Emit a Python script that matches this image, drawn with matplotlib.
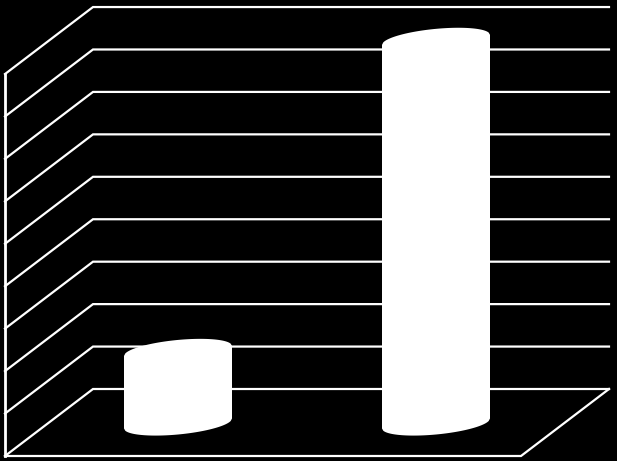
import numpy as np
import matplotlib
matplotlib.use('Agg')
import matplotlib.pyplot as plt

# values
categories = [0, 1]
values = [1.71, 9.04]
levels = list(range(0, 10))

# 3d look: how far the back wall is shifted from the front, in x units and value units
depth_x = 88.0 / 258
depth_y = 67.0 / 42.44
wall_left = -(178 - 93) / 258
wall_right = (609 - 178) / 258
bar_half = 54.0 / 258
cap_h = 11.0 / 42.44
cap_tilt = 5.0 / 42.44

fig = plt.figure(figsize=(6.17, 4.61), dpi=100, facecolor='black')
ax = fig.add_axes([0, 0, 1, 1])
ax.set_facecolor('black')
ax.set_xlim(-178 / 258, (617 - 178) / 258)
ax.set_ylim(-72 / 42.44, 389 / 42.44)
ax.axis('off')

lw = 1.6
for v in levels:
    # grid line: left wall then back wall
    ax.plot([wall_left - depth_x, wall_left, wall_right], [v - depth_y, v, v],
            color='white', lw=lw, solid_joinstyle='miter', zorder=1)

# left wall edge and floor
ax.plot([wall_left - depth_x, wall_left - depth_x], [-depth_y, levels[-1] - depth_y],
        color='white', lw=2.0, zorder=1)
ax.plot([wall_left - depth_x, wall_right - depth_x, wall_right], [-depth_y, -depth_y, 0],
        color='white', lw=lw, solid_joinstyle='miter', zorder=1)

# cylinders stand half way into the floor
t = np.linspace(-1, 1, 80)
for c, v in zip(categories, values):
    base = -depth_y / 2 - 1 / 42.44
    top_edge = base + v + cap_tilt * t + cap_h * np.sqrt(1 - t ** 2)
    bot_edge = base + cap_tilt * t - cap_h * np.sqrt(1 - t ** 2)
    xs = c + t * bar_half
    ax.fill(np.r_[xs, xs[::-1]], np.r_[top_edge, bot_edge[::-1]],
            color='white', lw=0, zorder=3)

fig.savefig('out.png', dpi=100, facecolor='black')
